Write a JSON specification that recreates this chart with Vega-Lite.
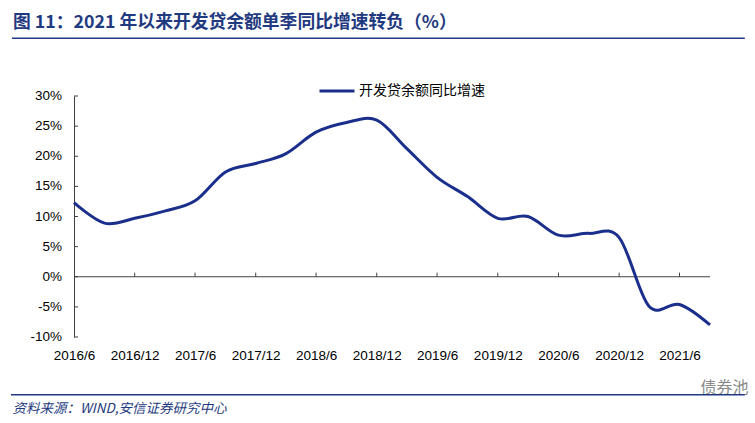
{
  "$schema": "https://vega.github.io/schema/vega-lite/v6.json",
  "width": 636,
  "height": 241,
  "autosize": {"type": "none"},
  "padding": {"left": 74, "top": 96, "right": 45, "bottom": 86},
  "background": "#ffffff",
  "config": {"view": {"stroke": null}},
  "title": {
    "text": "图 11：2021 年以来开发贷余额单季同比增速转负（%）",
    "anchor": "start",
    "frame": "group",
    "dx": -61,
    "offset": 6,
    "font": "Noto Sans CJK SC",
    "fontSize": 17.8,
    "fontWeight": "bold",
    "color": "#1f3a80"
  },
  "datasets": {
    "series": [
      {"date": "2016/06/01", "value": 12.3, "series": "开发贷余额同比增速"},
      {"date": "2016/09/01", "value": 8.9, "series": "开发贷余额同比增速"},
      {"date": "2016/12/01", "value": 9.7, "series": "开发贷余额同比增速"},
      {"date": "2017/03/01", "value": 10.9, "series": "开发贷余额同比增速"},
      {"date": "2017/06/01", "value": 12.6, "series": "开发贷余额同比增速"},
      {"date": "2017/09/01", "value": 17.4, "series": "开发贷余额同比增速"},
      {"date": "2017/12/01", "value": 18.8, "series": "开发贷余额同比增速"},
      {"date": "2018/03/01", "value": 20.4, "series": "开发贷余额同比增速"},
      {"date": "2018/06/01", "value": 24.0, "series": "开发贷余额同比增速"},
      {"date": "2018/09/01", "value": 25.6, "series": "开发贷余额同比增速"},
      {"date": "2018/12/01", "value": 26.0, "series": "开发贷余额同比增速"},
      {"date": "2019/03/01", "value": 21.3, "series": "开发贷余额同比增速"},
      {"date": "2019/06/01", "value": 16.5, "series": "开发贷余额同比增速"},
      {"date": "2019/09/01", "value": 13.3, "series": "开发贷余额同比增速"},
      {"date": "2019/12/01", "value": 9.7, "series": "开发贷余额同比增速"},
      {"date": "2020/03/01", "value": 10.0, "series": "开发贷余额同比增速"},
      {"date": "2020/06/01", "value": 6.9, "series": "开发贷余额同比增速"},
      {"date": "2020/09/01", "value": 7.2, "series": "开发贷余额同比增速"},
      {"date": "2020/12/01", "value": 6.5, "series": "开发贷余额同比增速"},
      {"date": "2021/03/01", "value": -4.9, "series": "开发贷余额同比增速"},
      {"date": "2021/06/01", "value": -4.6, "series": "开发贷余额同比增速"},
      {"date": "2021/09/01", "value": -8.0, "series": "开发贷余额同比增速"}
    ],
    "ticks": [
      {"date": "2016/12/01"}, {"date": "2017/06/01"}, {"date": "2017/12/01"},
      {"date": "2018/06/01"}, {"date": "2018/12/01"}, {"date": "2019/06/01"},
      {"date": "2019/12/01"}, {"date": "2020/06/01"}, {"date": "2020/12/01"},
      {"date": "2021/06/01"}
    ],
    "yticks": [
      {"v": -10, "label": "-10%"}, {"v": -5, "label": "-5%"}, {"v": 0, "label": "0%"},
      {"v": 5, "label": "5%"}, {"v": 10, "label": "10%"}, {"v": 15, "label": "15%"},
      {"v": 20, "label": "20%"}, {"v": 25, "label": "25%"}, {"v": 30, "label": "30%"}
    ]
  },
  "layer": [
    {
      "data": {"values": [{}]},
      "mark": {"type": "rule", "color": "#404040", "strokeWidth": 1},
      "encoding": {"y": {"datum": 0, "type": "quantitative"}}
    },
    {
      "data": {"name": "ticks"},
      "mark": {"type": "rule", "color": "#404040", "strokeWidth": 1},
      "encoding": {
        "x": {"field": "date", "type": "temporal"},
        "y": {"datum": 0, "type": "quantitative"},
        "y2": {"datum": 0.68}
      }
    },
    {
      "data": {"name": "yticks"},
      "mark": {"type": "rule", "color": "#404040", "strokeWidth": 1},
      "encoding": {
        "x": {"datum": {"year": 2016, "month": 6, "date": 1}, "type": "temporal"},
        "x2": {"datum": {"year": 2016, "month": 6, "date": 13}},
        "y": {"field": "v", "type": "quantitative"}
      }
    },
    {
      "data": {"name": "yticks"},
      "mark": {
        "type": "text",
        "align": "right",
        "baseline": "middle",
        "dx": -12,
        "font": "Liberation Sans",
        "fontSize": 13.5,
        "color": "#000000",
        "clip": false
      },
      "encoding": {
        "x": {"datum": {"year": 2016, "month": 6, "date": 1}, "type": "temporal"},
        "y": {"field": "v", "type": "quantitative"},
        "text": {"field": "label"}
      }
    },
    {
      "data": {"values": [{}]},
      "mark": {"type": "rule", "color": "#1f3a80", "strokeWidth": 1.5, "clip": false},
      "encoding": {
        "x": {"datum": {"year": 2015, "month": 11, "date": 27}, "type": "temporal"},
        "x2": {"datum": {"year": 2021, "month": 12, "date": 15}},
        "y": {"datum": 39.6, "type": "quantitative"}
      }
    },
    {
      "data": {"values": [{}]},
      "mark": {"type": "rule", "color": "#1f3a80", "strokeWidth": 1.5, "clip": false},
      "encoding": {
        "x": {"datum": {"year": 2015, "month": 11, "date": 24}, "type": "temporal"},
        "x2": {"datum": {"year": 2021, "month": 12, "date": 15}},
        "y": {"datum": -19.6, "type": "quantitative"}
      }
    },
    {
      "data": {"name": "series"},
      "mark": {"type": "line", "interpolate": "cardinal", "strokeWidth": 3},
      "encoding": {
        "x": {
          "field": "date",
          "type": "temporal",
          "scale": {
            "domain": [{"year": 2016, "month": 6, "date": 1}, {"year": 2021, "month": 9, "date": 1}],
            "nice": false
          },
          "axis": {
            "values": [
              {"year": 2016, "month": 6, "date": 1}, {"year": 2016, "month": 12, "date": 1},
              {"year": 2017, "month": 6, "date": 1}, {"year": 2017, "month": 12, "date": 1},
              {"year": 2018, "month": 6, "date": 1}, {"year": 2018, "month": 12, "date": 1},
              {"year": 2019, "month": 6, "date": 1}, {"year": 2019, "month": 12, "date": 1},
              {"year": 2020, "month": 6, "date": 1}, {"year": 2020, "month": 12, "date": 1},
              {"year": 2021, "month": 6, "date": 1}
            ],
            "format": "%Y/%-m",
            "domain": false,
            "ticks": false,
            "grid": false,
            "labelFlush": false,
            "labelOverlap": false,
            "labelAlign": "center",
            "labelPadding": 11,
            "labelFont": "Liberation Sans",
            "labelFontSize": 13.5,
            "labelColor": "#000000",
            "title": "资料来源：WIND,安信证券研究中心",
            "titleX": -62,
            "titleY": 71,
            "titleAlign": "left",
            "titleAnchor": "start",
            "titleBaseline": "middle",
            "titleFont": "Noto Sans CJK SC",
            "titleFontSize": 13.5,
            "titleFontWeight": "normal",
            "titleFontStyle": "italic",
            "titleColor": "#1f3a80"
          }
        },
        "y": {
          "field": "value",
          "type": "quantitative",
          "scale": {"domain": [-10, 30], "nice": false, "zero": false},
          "axis": {
            "labels": false,
            "ticks": false,
            "grid": false,
            "domainColor": "#404040",
            "title": "债券池",
            "titleX": 626,
            "titleY": 291,
            "titleAngle": 0,
            "titleAlign": "left",
            "titleBaseline": "middle",
            "titleFont": "Noto Sans CJK SC",
            "titleFontSize": 16,
            "titleFontWeight": "normal",
            "titleColor": "#8a8a8a"
          }
        },
        "color": {
          "field": "series",
          "type": "nominal",
          "scale": {"range": ["#1a2e8c"]},
          "legend": {
            "orient": "none",
            "legendX": 244,
            "legendY": -24,
            "title": null,
            "symbolType": "stroke",
            "symbolStrokeWidth": 3,
            "symbolSize": 1225,
            "labelFont": "Noto Sans CJK SC",
            "labelFontSize": 14,
            "labelColor": "#000000",
            "labelOffset": 3
          }
        }
      }
    }
  ]
}
